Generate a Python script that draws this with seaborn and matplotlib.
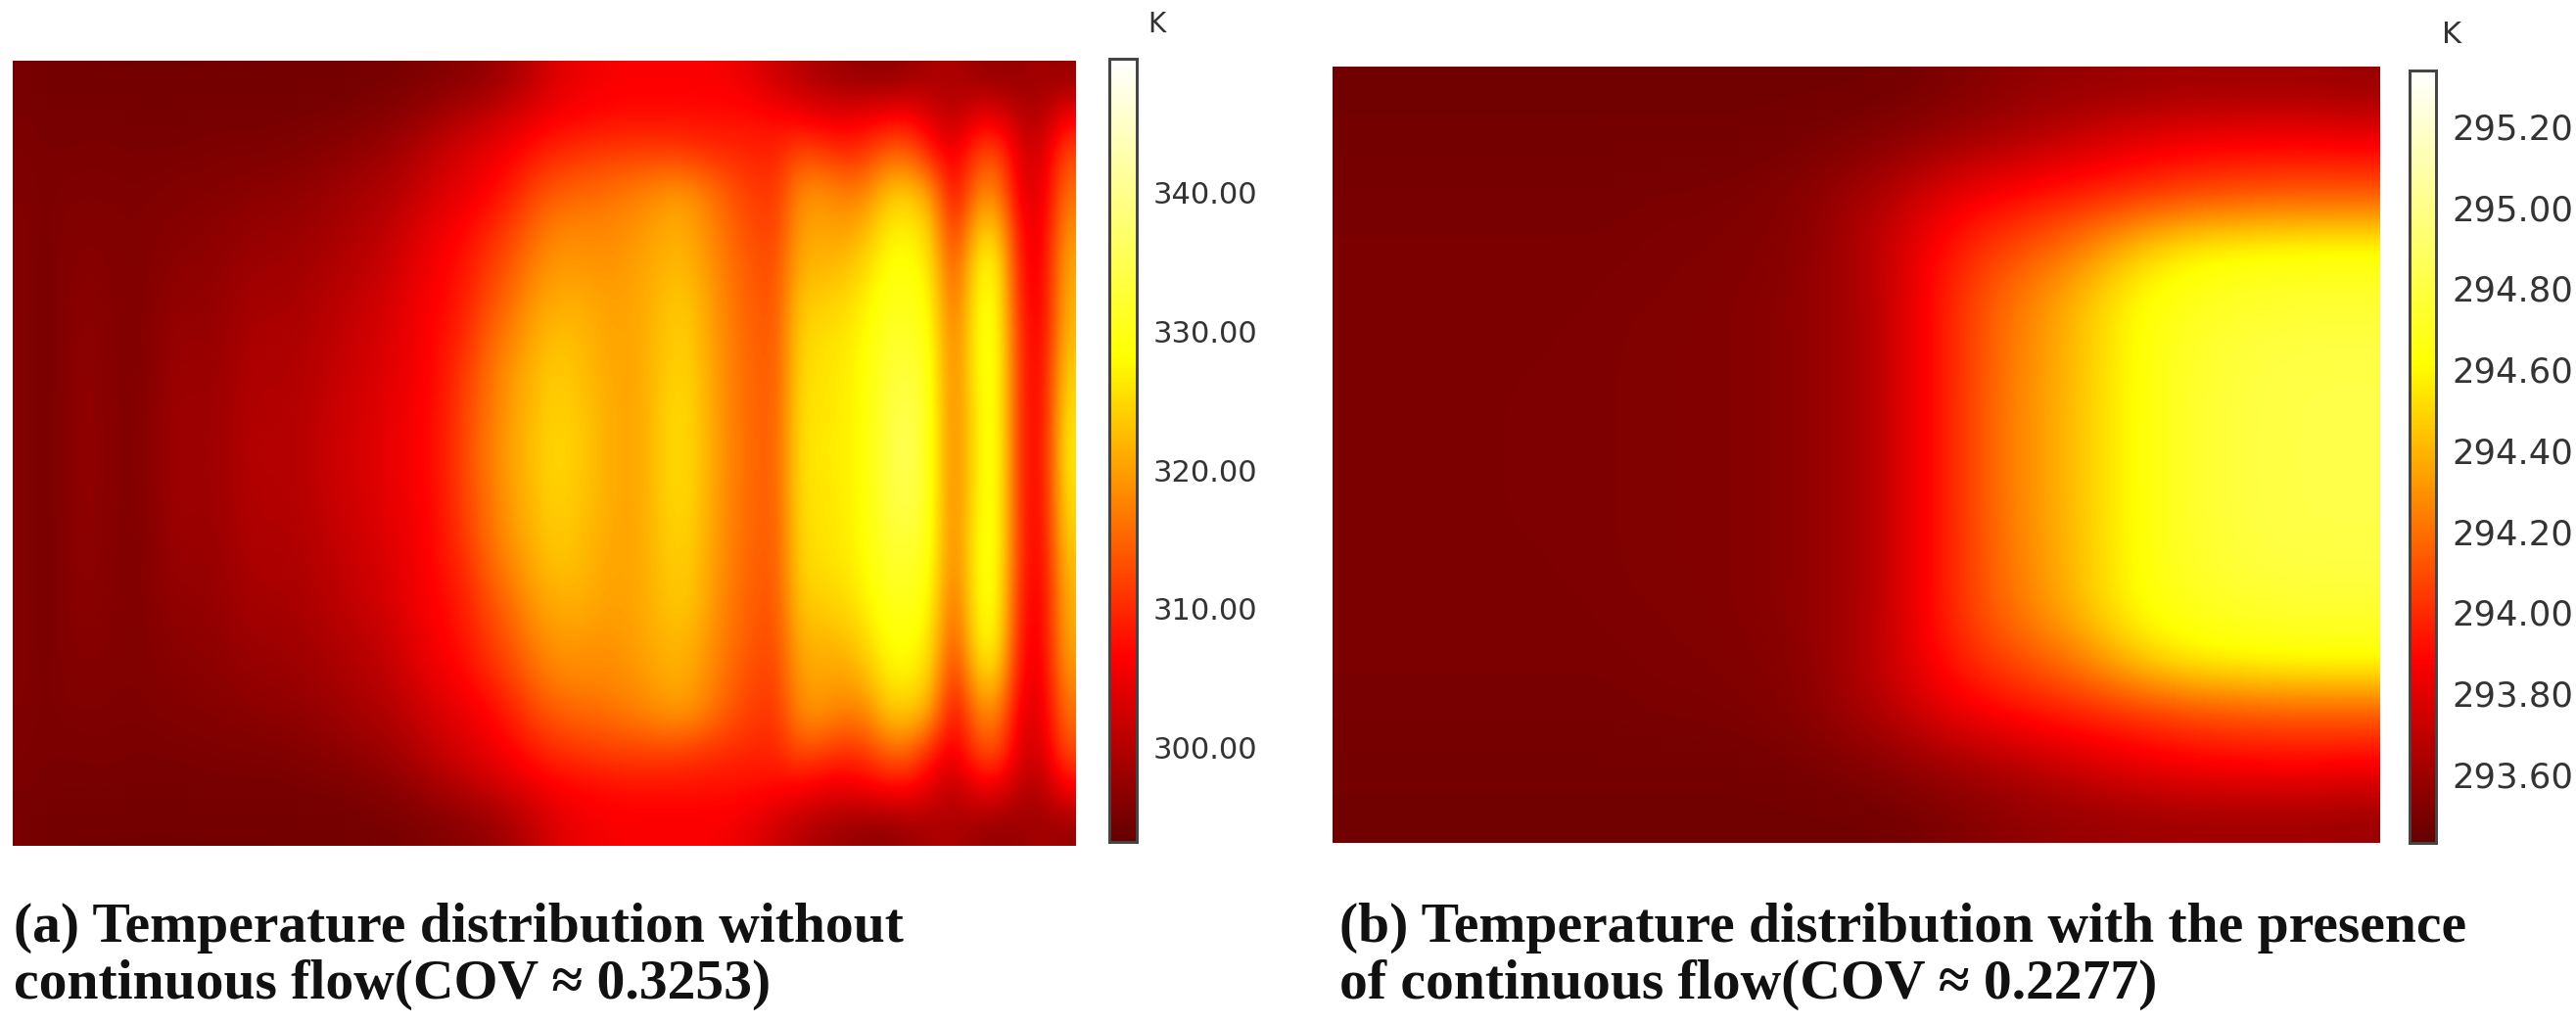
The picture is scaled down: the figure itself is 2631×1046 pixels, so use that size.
import pandas as pd
import matplotlib
matplotlib.use('Agg')
import matplotlib.pyplot as plt
from matplotlib.colors import LinearSegmentedColormap
import seaborn as sns

# Temperatures (K), left to right. Top half rows, the field is about mirror symmetric
a_r01 = [295,294.6,294.5,294.5,294.5,294.5,294.5,294.5,294.5,294.5,294.5,294.5,294.5,294.6,294.6,294.8,295,295,295.5,296,296.5,297.5,299,301,303.5,305,305.5,306,306,306,306,306,305.5,304,302,300.5,299,298,297.2,297,298,299,299.5,298,297.2,297.8,298.5,297.5]
a_r02 = [295.2,295,295,295,295,294.8,294.8,294.8,295,295,295,295,295,295.2,295.2,295.5,296,296.8,297.8,299,300.2,301.5,303,304.5,306,306.5,307,307.5,307.5,307.5,307.5,307.5,307.5,307.5,307,306,305,304.5,305.5,306.5,306.5,303.5,300.5,304.5,304.5,300.5,300,306]
a_r03 = [295.5,295.2,295.2,295.3,295.3,295.2,295.2,295.3,295.3,295.5,295.5,295.6,295.8,296.2,296.8,297.3,298,299,300.5,302,303.5,305,306.5,308.5,310,311,311.5,312,312,312,311.5,310.5,310,309.5,309.5,313,312,310.5,311.5,315,315,309,305,312,313.5,303,303,313]
a_r04 = [295.6,295.3,295.5,295.6,295.5,295.4,295.6,295.8,296,296.2,296.5,296.8,297,297.5,298,298.8,299.5,300.5,302,303.5,305,306.5,309,312,314,315,315.5,316.5,317.5,319,319,316.5,313.5,311.5,311,318,319,317,317.5,323,323.5,319.5,306,317,318,304,304,316]
a_r05 = [295.8,295.2,295.8,296,295.8,295.6,296,296.2,296.5,296.8,297.3,297.5,297.8,298.2,299,299.8,300.5,302,304,305.5,307,309.5,312,315,317.5,318,318,318.5,319.5,321,321,318,315,312.5,312,320,320.5,320,322,326.5,327,324,309,323,324,306,304.5,319]
a_r06 = [295.8,295,296,296.3,296,295.7,296.2,296.8,296.8,297.3,298,298.2,298.5,299,299.8,300.5,301.5,303,305,306.5,308.5,311.5,314,317.5,319.5,319.5,319,319.5,320.5,322,322,319,316,313.5,313,321.5,322,322.5,325,328.5,329,326,312,327,328,307,305,321]
a_r07 = [295.9,294.9,296.2,296.6,296,295.7,296.5,297.2,297.2,297.8,298.6,299,299,299.7,300.5,301.5,302.5,304,305.8,307,309.5,313,316,319.5,321,321.5,320.5,320,321,323,323.5,320,316.5,314,313.5,323.5,324,325,327,330,330.5,327.5,314,328,329,308,305,322]
a_r08 = [296,294.8,296.3,296.8,296.1,295.7,296.7,297.8,297.5,298,299.2,299.5,299.5,300.2,301,302,303,304.5,306,308,310.5,315,318,321,323,322.5,321,320.5,321,323.5,324,320.5,317,314.5,314,324.5,325.5,326,328,331.5,332,328.5,315.5,328.5,329.5,309,305.5,323]
a_r09 = [296,294.8,296.4,297,296.1,295.7,296.8,298.2,297.8,298.3,299.6,299.8,299.8,300.5,301.5,302.5,303.5,305,306,308.5,312,316,319.5,322,324,323,321.5,320.5,321,324,324.5,321,317,315,314,325,326,326.5,328.5,332.5,334,329,316,328,330,309,305.8,325]
a_r10 = [296,294.8,296.5,297,296.2,295.8,297,298.4,298,298.5,299.8,300,300,300.8,302,302.8,303.8,305.3,306.3,308.8,312.5,316.5,320,322.5,324.5,323.5,322,320.5,321,324.5,325,321,317.3,315,314.3,325.5,326,326.5,328.5,333,335.5,329,316.3,327,330,309,306,326]
a_r11 = [296,294.8,296.5,297,296.2,295.8,297,298.5,298,298.6,300,300.2,300,301,302.2,303,304,305.5,306.5,309,313,317,320.5,323,325,324,322,320.5,321,324.5,325,321.5,317.5,315,314.5,325.5,326.5,327,328.5,333.5,336,329,316.5,327,330.5,309,306,327]
temp_a = [a_r01, a_r02, a_r03, a_r04, a_r05, a_r06, a_r07, a_r08, a_r09, a_r10, a_r11,
          a_r10, a_r09, a_r08, a_r07, a_r06, a_r05, a_r04, a_r03, a_r02, a_r01]

b_r1 = [293.47,293.47,293.47,293.47,293.47,293.47,293.47,293.47,293.47,293.47,293.47,293.47,293.47,293.49,293.52,293.55,293.57,293.58,293.59,293.60,293.60,293.60,293.60,293.58]
b_r2 = [293.48,293.48,293.48,293.48,293.48,293.48,293.48,293.48,293.48,293.48,293.49,293.51,293.54,293.58,293.62,293.66,293.71,293.77,293.82,293.86,293.88,293.89,293.89,293.87]
b_r3 = [293.49,293.49,293.49,293.49,293.49,293.49,293.49,293.50,293.50,293.51,293.53,293.58,293.65,293.75,293.84,293.90,293.95,293.99,294.03,294.07,294.10,294.12,294.13,294.13]
b_r4 = [293.50,293.50,293.50,293.50,293.50,293.50,293.50,293.51,293.51,293.52,293.54,293.60,293.70,293.84,293.98,294.08,294.17,294.30,294.46,294.56,294.60,294.62,294.63,294.63]
b_r5 = [293.50,293.50,293.50,293.50,293.50,293.50,293.51,293.51,293.52,293.53,293.55,293.60,293.68,293.86,294.05,294.20,294.33,294.48,294.62,294.68,294.72,294.74,294.75,294.75]
b_r6 = [293.50,293.50,293.50,293.50,293.50,293.51,293.51,293.52,293.52,293.53,293.55,293.60,293.68,293.86,294.05,294.22,294.35,294.49,294.63,294.72,294.77,294.80,294.81,294.81]
b_r7 = [293.50,293.50,293.50,293.50,293.51,293.51,293.51,293.52,293.52,293.53,293.55,293.60,293.68,293.86,294.05,294.24,294.36,294.50,294.63,294.73,294.78,294.81,294.82,294.82]
b_r8 = [293.50,293.50,293.50,293.50,293.51,293.51,293.51,293.52,293.52,293.53,293.55,293.60,293.68,293.86,294.05,294.24,294.36,294.50,294.63,294.73,294.78,294.81,294.82,294.82]
temp_b = [b_r1, b_r2, b_r3, b_r4, b_r5, b_r6, b_r7, b_r8, b_r7, b_r6, b_r5, b_r4, b_r3, b_r2, b_r1]

range_a = [293.2, 349.65]
range_b = [293.43, 295.3375]
ticks_a = [300, 310, 320, 330, 340]
ticks_b = [293.6, 293.8, 294.0, 294.2, 294.4, 294.6, 294.8, 295.0, 295.2]
caption_a = ['(a) Temperature distribution without', 'continuous flow(COV ≈ 0.3253)']
caption_b = ['(b) Temperature distribution with the presence', 'of continuous flow(COV ≈ 0.2277)']

W, H = 2631, 1046
sns.set_style('white')
heat_cmap = LinearSegmentedColormap.from_list(
    'heat_light', [(0, '#650000'), (0.235, '#ff0000'), (0.62, '#ffff00'), (1, '#ffffff')])

fig = plt.figure(figsize=(W / 100, H / 100), dpi=100, facecolor='white')


def box(x0, y0, x1, y1):
    # pixel box, y from the top of the picture
    return [x0 / W, 1 - y1 / H, (x1 - x0) / W, (y1 - y0) / H]


def panel(values, vrange, ticks, heat_box, bar_box, tick_size):
    ax = fig.add_axes(box(*heat_box))
    cax = fig.add_axes(box(*bar_box))
    df = pd.DataFrame(values)
    sns.heatmap(df, ax=ax, cbar_ax=cax, cmap=heat_cmap, vmin=vrange[0], vmax=vrange[1],
                xticklabels=False, yticklabels=False,
                cbar_kws={'ticks': ticks, 'format': '%.2f'})
    # smooth field: same cells, drawn with interpolation
    ax.collections[0].set_visible(False)
    ax.imshow(df.values, cmap=heat_cmap, vmin=vrange[0], vmax=vrange[1], aspect='auto',
              interpolation='bicubic', extent=(0, df.shape[1], df.shape[0], 0))
    cax.tick_params(axis='y', left=True, right=True, direction='in', length=5, width=1.5,
                    color='#333333', labelsize=tick_size, labelcolor='#333333', pad=12)
    for side in cax.spines.values():
        side.set_visible(True)
        side.set_color('#444444')
        side.set_linewidth(2)


panel(temp_a, range_a, ticks_a, (13, 62, 1099, 864), (1133, 60, 1161, 860), 22)
panel(temp_b, range_b, ticks_b, (1361, 68, 2431, 861), (2461, 72, 2488, 861), 25.5)

fig.text(1172 / W, 1 - 25 / H, 'K', fontsize=20, color='#333333', va='center')
fig.text(2494 / W, 1 - 35 / H, 'K', fontsize=22, color='#333333', va='center')

for lines, x in ((caption_a, 14), (caption_b, 1368)):
    for line, y in zip(lines, (948, 1006)):
        fig.text(x / W, 1 - y / H, line, fontsize=41.5, fontweight='bold',
                 family='Liberation Serif', color='#111111', va='center')

fig.savefig('out.png', dpi=100)
